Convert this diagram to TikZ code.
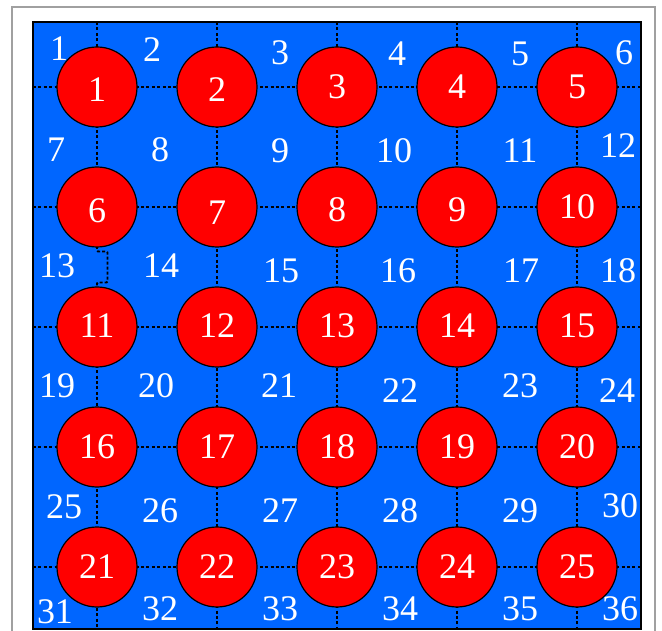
\documentclass[tikz,border=0pt]{standalone}
\usepackage{fontspec}
\setmainfont{Liberation Serif}
\definecolor{boardblue}{RGB}{0,102,255}
\definecolor{framegray}{RGB}{160,160,160}
\begin{document}
\begin{tikzpicture}[x=1pt,y=-1pt,
  gridline/.style={black,line width=1.4pt,dash pattern=on 3pt off 2.4pt},
  ball/.style={circle,fill=red,draw=black,line width=1.2pt,minimum size=80pt,inner sep=0pt,text=white,font=\fontsize{36}{36}\selectfont},
  cornerlbl/.style={text=white,font=\fontsize{36}{36}\selectfont,inner sep=0pt}]
\useasboundingbox (0,0) rectangle (662,631);
% outer frame
\draw[framegray,line width=1.4pt] (12,631) -- (12,7) -- (655,7) -- (655,631);
% board
\draw[fill=boardblue,draw=black,line width=1.4pt] (33,22) rectangle (641,629);
% edge coordinates
\foreach \i/\x in {1/97,2/217,3/337,4/457,5/577}{
  \coordinate (top\i) at (\x,22);
  \coordinate (bot\i) at (\x,629);
}
\foreach \j/\y in {1/87,2/207,3/327,4/447,5/567}{
  \coordinate (lft\j) at (33,\y);
  \coordinate (rgt\j) at (641,\y);
}
% circle centres
\foreach \r/\y in {0/87,1/207,2/327,3/447,4/567}{
  \foreach \c/\x in {1/97,2/217,3/337,4/457,5/577}{
    \pgfmathtruncatemacro{\n}{\r*5+\c}
    \coordinate (p\n) at (\x,\y);
  }
}
% horizontal grid lines
\foreach \j in {1,...,5}{ \draw[gridline] (lft\j) -- (rgt\j); }
% vertical grid lines
\foreach \i in {2,...,5}{ \draw[gridline] (top\i) -- (bot\i); }
\draw[gridline] (top1) -- (p6);
\draw[gridline] (p11) -- (bot1);
\coordinate (b0) at (97,246);
\coordinate (b1) at (97,251.5);
\coordinate (b2) at (107.5,251.5);
\coordinate (b3) at (107.5,282.5);
\coordinate (b4) at (97,282.5);
\coordinate (b5) at (97,288);
\draw[black,line width=1.8pt,dash pattern=on 3pt off 2pt,rounded corners=1pt] (b0) -- (b1) -- (b2) -- (b3) -- (b4) -- (b5);
% balls
\foreach \n in {1,...,25}{ \node[ball] (c\n) at (p\n) {}; }
\foreach \n/\dy in {1/3,2/3,3/0,4/0,5/0,6/4,7/6,8/3,9/3,10/0,11/-1,12/-1,13/-1,14/-1,15/-1,16/0,17/0,18/0,19/0,20/0,21/0,22/0,23/0,24/0,25/0}{
  \node[cornerlbl] (t\n) at ([yshift=-\dy pt]p\n) {\n};
}
% corner labels
\foreach \n/\x/\y in {1/59/49,2/152/50,3/280/53,4/397/54,5/520/54,6/624/53,
  7/56/150,8/160/150,9/280/151,10/394/151,11/520/151,12/618/146,
  13/57/266,14/161/266,15/281/271,16/398/271,17/521/271,18/618/271,
  19/57/386,20/156/386,21/279/386,22/400/391,23/520/386,24/617/391,
  25/64/507,26/160/511,27/280/511,28/400/511,29/520/511,30/620/506,
  31/55/612,32/160/609,33/280/609,34/400/609,35/520/609,36/620/609}{
  \node[cornerlbl] (l\n) at (\x,\y) {\n};
}
\end{tikzpicture}
\end{document}
